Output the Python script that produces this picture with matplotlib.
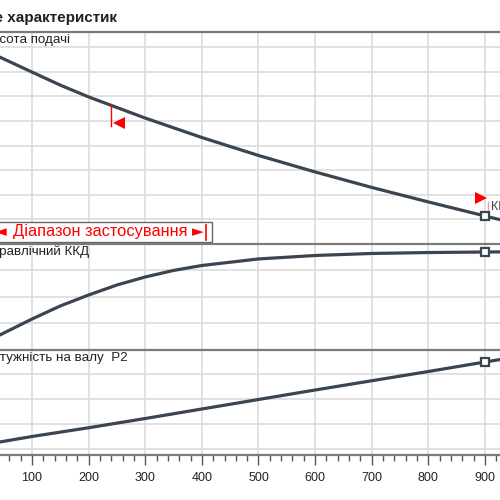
import numpy as np
import matplotlib
matplotlib.use("Agg")
import matplotlib.pyplot as plt
from matplotlib.patches import Rectangle
from matplotlib.ticker import MultipleLocator

plt.rcParams['font.family'] = ['Liberation Sans', 'DejaVu Sans']

# flow values
q_head = [43, 100, 150, 200, 300, 400, 500, 600, 700, 800, 900, 930]
head = [7.60, 6.99, 6.46, 5.98, 5.12, 4.33, 3.60, 2.93, 2.30, 1.71, 1.14, 0.97]

q_eff = [43, 100, 150, 200, 250, 300, 350, 400, 500, 600, 700, 800, 900, 930]
eff = [11.2, 23.2, 33.0, 41.2, 48.7, 54.7, 59.6, 63.3, 68.2, 70.8, 72.3, 73.0, 73.4, 73.5]

q_pow = [43, 100, 200, 300, 400, 500, 600, 700, 800, 900, 930]
power = [0.028, 0.05, 0.085, 0.122, 0.16, 0.198, 0.236, 0.273, 0.31, 0.348, 0.359]

q_min = 240
q_max = 900
title = "Поле характеристик"
labels = ["Висота подачі", "Гідравлічний ККД", "Потужність на валу  P2"]
range_text = "Діапазон застосування"

line_col = "#3b4550"
grid_col = "#dcdcdc"
spine_col = "#7a7a7a"

fig = plt.figure(figsize=(5, 5), dpi=100)
xlim = (43.5, 926.5)

def px(y):
    return 1 - y / 500

def qx(p):
    # horizontal pixel -> flow value
    return xlim[0] + p * (xlim[1] - xlim[0]) / 500

ax1 = fig.add_axes([0, px(244), 1, px(32) - px(244)])
ax2 = fig.add_axes([0, px(350), 1, px(244) - px(350)])
ax3 = fig.add_axes([0, px(455), 1, px(350) - px(455)])

ax1.set_ylim(0, 8.62)
ax1.set_yticks(range(1, 9))
ax2.set_ylim(0, 79.4)
ax2.set_yticks([20, 40, 60])
ax3.set_ylim(-0.024, 0.396)
ax3.set_yticks([0, 0.1, 0.2, 0.3])

for ax in (ax1, ax2, ax3):
    ax.set_xlim(*xlim)
    ax.xaxis.set_major_locator(MultipleLocator(100))
    ax.xaxis.set_minor_locator(MultipleLocator(20))
    ax.grid(True, which='major', color=grid_col, lw=1.2)
    ax.set_axisbelow(True)
    for s in ('left', 'right', 'bottom'):
        ax.spines[s].set_visible(False)
    ax.spines['top'].set_color(spine_col)
    ax.spines['top'].set_linewidth(1.6)
    ax.tick_params(axis='y', left=False, labelleft=False)
    ax.tick_params(axis='x', which='both', bottom=False, labelbottom=False)

ax3.spines['bottom'].set_visible(True)
ax3.spines['bottom'].set_color(spine_col)
ax3.spines['bottom'].set_linewidth(1.6)
ax3.tick_params(axis='x', which='major', bottom=True, labelbottom=True,
                length=7, width=1, color="#555555", pad=5, labelsize=9,
                labelcolor="#222222")
ax3.tick_params(axis='x', which='minor', bottom=True, length=4.5, width=1,
                color="#555555")

# curves
ax1.plot(q_head, head, color=line_col, lw=2.3, solid_joinstyle='round')
ax2.plot(q_eff, eff, color=line_col, lw=2.3, solid_joinstyle='round')
ax3.plot(q_pow, power, color=line_col, lw=2.3, solid_joinstyle='round')

mk = dict(marker='s', ms=6, mfc='white', mec=line_col, mew=1.6, zorder=5,
          clip_on=False)
ax1.plot([q_max], [np.interp(q_max, q_head, head)], **mk)
ax2.plot([q_max], [np.interp(q_max, q_eff, eff)], **mk)
ax3.plot([q_max], [np.interp(q_max, q_pow, power)], **mk)

# operating range marks
h_min = np.interp(q_min, q_head, head)
ax1.plot([q_min, q_min], [h_min, 4.8], color='red', lw=1)
ax1.plot([q_min + 14], [4.92], marker='<', color='red', ms=8, mew=0)
h_max = np.interp(q_max, q_head, head)
ax1.plot([q_max + 5, q_max + 5], [h_max, 1.7], color='#ff9999', lw=1)
ax1.plot([q_max - 7], [1.87], marker='>', color='red', ms=8, mew=0)
ax1.text(q_max + 10, 1.5, "ККД", fontsize=9, color="#444444",
         va='center', ha='left', clip_on=False)

# range box
ax1.add_patch(Rectangle((20, 0.08), 398, 0.81, facecolor='white',
                        edgecolor='#666666', lw=1, zorder=6, clip_on=False))
ax1.text(qx(7), 0.49, "◄", color='red', fontsize=11, va='center',
         ha='right', zorder=7, family='DejaVu Sans')
ax1.text(qx(13), 0.49, range_text, color='red', fontsize=11.8, va='center',
         ha='left', zorder=7)
ax1.text(qx(192), 0.49, "►", color='red', fontsize=11, va='center',
         ha='left', zorder=7, family='DejaVu Sans')
ax1.plot([qx(206), qx(206)], [0.16, 0.77], color='red', lw=1.2, zorder=7)

# texts
fig.text(117 / 500, px(18), title, fontsize=11, fontweight='bold',
         ha='right', va='center', color='#222222')
ends = [(70, 40), (89, 252), (128, 358)]
for lab, (xe, yc) in zip(labels, ends):
    fig.text(xe / 500, px(yc), lab, fontsize=9.6, ha='right', va='center',
             color='#222222')

fig.savefig("out.png", dpi=100)
